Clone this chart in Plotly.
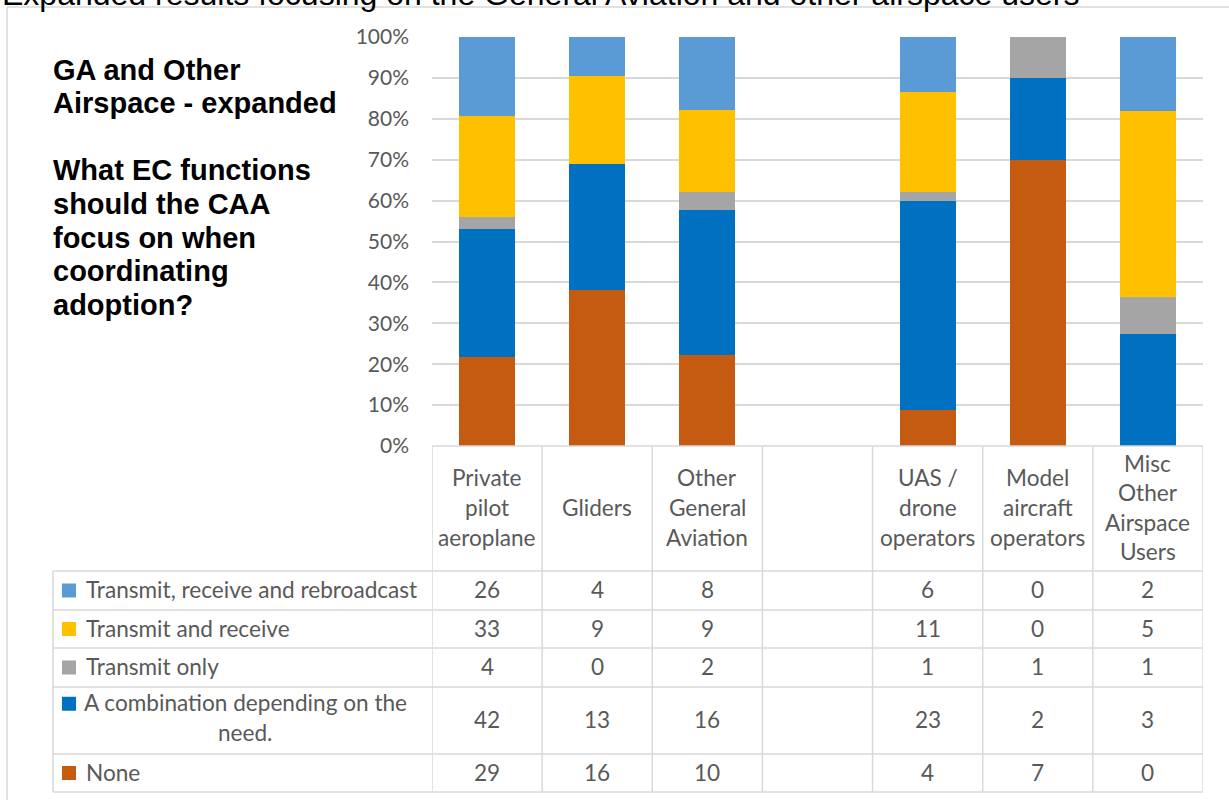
import plotly.graph_objects as go

# ---------------- data ----------------
categories = ["Private pilot aeroplane", "Gliders", "Other General Aviation", " ",
              "UAS / drone operators", "Model aircraft operators", "Misc Other Airspace Users"]
header_labels = ["Private<br>pilot<br>aeroplane", "Gliders", "Other<br>General<br>Aviation", "",
                 "UAS /<br>drone<br>operators", "Model<br>aircraft<br>operators",
                 "Misc<br>Other<br>Airspace<br>Users"]

series_names = ["Transmit, receive and rebroadcast", "Transmit and receive", "Transmit only",
                "A combination depending on the need.", "None"]
row_labels = ["Transmit, receive and rebroadcast", "Transmit and receive", "Transmit only",
              "A combination depending on the<br>need.", "None"]

rebroadcast = [26, 4, 8, None, 6, 0, 2]
transmit_receive = [33, 9, 9, None, 11, 0, 5]
transmit_only = [4, 0, 2, None, 1, 1, 1]
combination = [42, 13, 16, None, 23, 2, 3]
none_vals = [29, 16, 10, None, 4, 7, 0]

series_values = [rebroadcast, transmit_receive, transmit_only, combination, none_vals]
colors = ["#5B9BD5", "#FFC000", "#A5A5A5", "#0070C0", "#C55A11"]

title_text = "Expanded results focusing on the General Aviation and other airspace users"
side_title = ["GA and Other", "Airspace - expanded"]
side_question = ["What EC functions", "should the CAA", "focus on when", "coordinating", "adoption?"]

# ---------------- layout geometry (pixels) ----------------
W, H = 1229, 800
PL, PR, PT, PB = 432, 1203, 37, 446


def px(x):
    return (x - PL) / (PR - PL)


def py(y):
    return (PB - y) / (PB - PT)


GRID = "#D9D9D9"
TXT = "#595959"
FONT = "Lato"
TSIZE = 22.6

fig = go.Figure()
# stack bottom -> top: None first
for name, vals, col in reversed(list(zip(series_names, series_values, colors))):
    fig.add_trace(go.Bar(x=categories, y=[v if v is not None else 0 for v in vals],
                         name=name, marker=dict(color=col, line=dict(width=0)),
                         showlegend=False))

shapes = []
annotations = []

# outer frame
shapes.append(dict(type="line", xref="paper", yref="paper", x0=px(7), x1=px(1240),
                   y0=py(7), y1=py(7), line=dict(color=GRID, width=1.5)))
shapes.append(dict(type="line", xref="paper", yref="paper", x0=px(7), x1=px(7),
                   y0=py(7), y1=py(810), line=dict(color=GRID, width=1.5)))

# table geometry
header_top, header_bot = 446, 571
row_lines = [571, 610, 648, 687, 754, 792]
table_left = 53

# horizontal lines
shapes.append(dict(type="line", xref="x", yref="paper", x0=-0.5, x1=len(categories) - 0.5,
                   y0=py(header_top), y1=py(header_top), line=dict(color=GRID, width=1.5)))
for yl in row_lines:
    shapes.append(dict(type="line", xref="paper", yref="paper", x0=px(table_left), x1=1,
                       y0=py(yl), y1=py(yl), line=dict(color=GRID, width=1.5)))
# vertical lines
for i in range(len(categories) + 1):
    shapes.append(dict(type="line", xref="x", yref="paper", x0=i - 0.5, x1=i - 0.5,
                       y0=py(header_top), y1=py(row_lines[-1]), line=dict(color=GRID, width=1.5)))
shapes.append(dict(type="line", xref="paper", yref="paper", x0=px(table_left), x1=px(table_left),
                   y0=py(row_lines[0]), y1=py(row_lines[-1]), line=dict(color=GRID, width=1.5)))

# header labels (line by line)
LINE_H = 29.5
hc = (header_top + header_bot) / 2
for cat, lab in zip(categories, header_labels):
    if not lab:
        continue
    parts = lab.split("<br>")
    n = len(parts)
    for k, part in enumerate(parts):
        yc = hc + (k - (n - 1) / 2) * LINE_H - 1
        annotations.append(dict(x=cat, xref="x", y=py(yc), yref="paper", text=part,
                                showarrow=False, xanchor="center", yanchor="middle",
                                font=dict(family=FONT, size=TSIZE, color=TXT)))

# rows
for r, (lab, vals, col) in enumerate(zip(row_labels, series_values, colors)):
    y0, y1 = row_lines[r], row_lines[r + 1]
    yc = (y0 + y1) / 2
    parts = lab.split("<br>")
    n = len(parts)
    first_y = yc - (n - 1) / 2 * LINE_H - 2 * (n - 1)
    # legend square aligned with first line
    sq = 14
    shapes.append(dict(type="rect", xref="paper", yref="paper",
                       x0=px(62), x1=px(62 + sq), y0=py(first_y - sq / 2), y1=py(first_y + sq / 2),
                       fillcolor=col, line=dict(width=0)))
    for k, part in enumerate(parts):
        ly = first_y + k * LINE_H - 1
        if n == 1:
            annotations.append(dict(x=px(84), xref="paper", y=py(ly), yref="paper", text=part,
                                    showarrow=False, xanchor="left", yanchor="middle",
                                    font=dict(family=FONT, size=TSIZE, color=TXT)))
        else:
            annotations.append(dict(x=px(245), xref="paper", y=py(ly), yref="paper", text=part,
                                    showarrow=False, xanchor="center", yanchor="middle",
                                    font=dict(family=FONT, size=TSIZE, color=TXT)))
    for cat, v in zip(categories, vals):
        if v is None:
            continue
        annotations.append(dict(x=cat, xref="x", y=py(yc - 1), yref="paper", text=str(v),
                                showarrow=False, xanchor="center", yanchor="middle",
                                font=dict(family=FONT, size=TSIZE, color=TXT)))

# top (clipped) title
annotations.append(dict(x=px(0), xref="paper", y=py(14), yref="paper", text=title_text,
                        showarrow=False, xanchor="left", yanchor="bottom",
                        font=dict(family="Liberation Sans", size=32, color="#000000")))

# side text
for k, t in enumerate(side_title):
    annotations.append(dict(x=px(51), xref="paper", y=py(70 + k * 33), yref="paper",
                            text="<b>" + t + "</b>",
                            showarrow=False, xanchor="left", yanchor="middle",
                            font=dict(family="Liberation Sans", size=29, color="#000000")))
for k, t in enumerate(side_question):
    annotations.append(dict(x=px(51), xref="paper", y=py(170 + k * 33.8), yref="paper",
                            text="<b>" + t + "</b>",
                            showarrow=False, xanchor="left", yanchor="middle",
                            font=dict(family="Liberation Sans", size=29, color="#000000")))

fig.update_layout(
    width=W, height=H,
    margin=dict(l=PL, r=W - PR, t=PT, b=H - PB, pad=0),
    paper_bgcolor="white", plot_bgcolor="white",
    barmode="stack", barnorm="percent", bargap=0.49,
    shapes=shapes, annotations=annotations,
    xaxis=dict(type="category", categoryorder="array", categoryarray=categories,
               range=[-0.5, len(categories) - 0.5], showticklabels=False,
               showgrid=False, zeroline=False, showline=False, ticks=""),
    yaxis=dict(range=[0, 100], dtick=10, ticksuffix="%", showgrid=True, gridcolor=GRID,
               gridwidth=1.5, zeroline=False, showline=False, ticks="",
               ticklabelstandoff=22,
               tickfont=dict(family=FONT, size=21, color=TXT)),
    font=dict(family=FONT, color=TXT),
)

fig.write_html("out.html")
